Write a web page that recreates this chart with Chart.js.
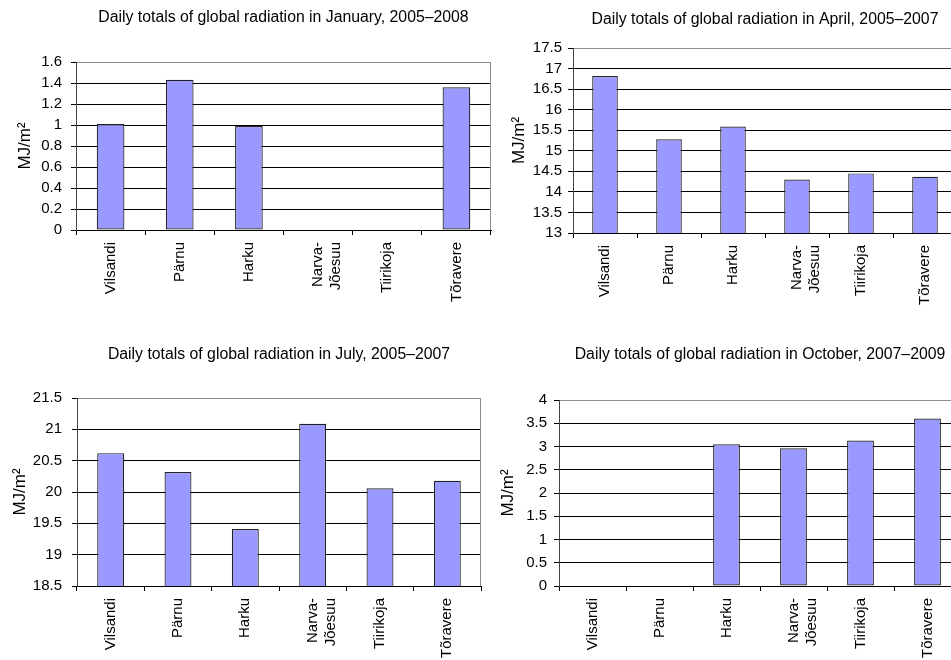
<!DOCTYPE html>
<html>
<head>
    <title>Daily totals of global radiation</title>
    <script src="https://cdn.jsdelivr.net/npm/chart.js"></script>
    <style>
        body {
            margin: 0;
            background: #fff;
            width: 951px;
            height: 660px;
            overflow: hidden;
            position: relative;
        }
        canvas { position: absolute; }
    </style>
</head>
<body>
    <canvas id="chartJan"></canvas>
    <canvas id="chartApr"></canvas>
    <canvas id="chartJul"></canvas>
    <canvas id="chartOct"></canvas>

    <script>
        // stations (same order in all four charts)
        const stations = ["Vilsandi", "Pärnu", "Harku", ["Narva-", "Jõesuu"], "Tiirikoja", "Tõravere"];

        // MJ/m2 (null = no data)
        const janValues = [1.01, 1.43, 0.99, null, null, 1.36];
        const aprValues = [16.82, 15.28, 15.59, 14.30, 14.45, 14.37];
        const julValues = [20.62, 20.32, 19.41, 21.09, 20.06, 20.18];
        const octValues = [null, null, 3.05, 2.96, 3.13, 3.60];

        // y axis: min, max, step
        const janAxis = [0, 1.6, 0.2];
        const aprAxis = [13, 17.5, 0.5];
        const julAxis = [18.5, 21.5, 0.5];
        const octAxis = [0, 4, 0.5];

        const janTitle = "Daily totals of global radiation in January, 2005–2008";
        const aprTitle = "Daily totals of global radiation in April, 2005–2007";
        const julTitle = "Daily totals of global radiation in July, 2005–2007";
        const octTitle = "Daily totals of global radiation in October, 2007–2009";
        const yTitle = "MJ/m²";

        const FONT = '"Liberation Sans", Arial, sans-serif';
        Chart.defaults.font.family = FONT;
        Chart.defaults.color = "#000";

        // title centred over the plot area, plus the grey right border of the plot
        const plotDeco = {
            id: "plotDeco",
            afterDraw(chart, args, opts) {
                const ctx = chart.ctx;
                const ca = chart.chartArea;
                ctx.save();
                ctx.strokeStyle = "#8c8c8c";
                ctx.lineWidth = 1;
                ctx.beginPath();
                ctx.moveTo(Math.round(ca.right) - 0.5, Math.round(ca.top) + 0.5);
                ctx.lineTo(Math.round(ca.right) - 0.5, Math.round(ca.bottom));
                ctx.stroke();
                ctx.fillStyle = "#000";
                ctx.font = opts.size + "px " + FONT;
                ctx.textAlign = "center";
                ctx.textBaseline = "middle";
                ctx.fillText(opts.text, (ca.left + ca.right) / 2, opts.y);
                ctx.restore();
            }
        };

        function makeChart(id, box, plot, deco, yTitleX, tickPad, values, axis) {
            const canvas = document.getElementById(id);
            canvas.width = box.w;
            canvas.height = box.h;
            canvas.style.left = box.x + "px";
            canvas.style.top = box.y + "px";

            return new Chart(canvas.getContext("2d"), {
                type: "bar",
                data: {
                    labels: stations,
                    datasets: [{
                        data: values,
                        backgroundColor: "#9999ff",
                        borderColor: "#222",
                        borderWidth: 1.2,
                        borderSkipped: false,
                        barPercentage: 0.4,
                        categoryPercentage: 1
                    }]
                },
                options: {
                    responsive: false,
                    animation: false,
                    layout: { padding: { left: 0, top: plot.top, right: box.w - plot.right, bottom: 0 } },
                    plugins: {
                        legend: { display: false },
                        tooltip: { enabled: false },
                        plotDeco: deco
                    },
                    scales: {
                        x: {
                            grid: { drawOnChartArea: false, tickLength: 5, color: "#000", offset: true },
                            border: { color: "#000" },
                            ticks: { font: { size: 15 }, minRotation: 90, maxRotation: 90, padding: 7, autoSkip: false },
                            afterFit(scale) { scale.height = box.h - plot.bottom; }
                        },
                        y: {
                            min: axis[0],
                            max: axis[1],
                            grid: {
                                color: c => c.index === c.chart.scales.y.ticks.length - 1 ? "#8c8c8c" : "#000",
                                tickColor: "#000",
                                tickLength: 5
                            },
                            border: { color: "#444" },
                            ticks: {
                                stepSize: axis[2],
                                autoSkip: false,
                                font: { size: 15 },
                                padding: tickPad,
                                callback: v => String(parseFloat(v.toFixed(2)))
                            },
                            title: {
                                display: true,
                                text: yTitle,
                                font: { size: 17 },
                                padding: { top: yTitleX - 10.2, bottom: 0 }
                            },
                            afterFit(scale) { scale.width = plot.left; }
                        }
                    }
                },
                plugins: [plotDeco]
            });
        }

        makeChart("chartJan", { x: 0, y: 0, w: 500, h: 330 },
            { left: 76, top: 62, right: 491, bottom: 230 },
            { text: janTitle, y: 18, size: 15.8 }, 25, 9, janValues, janAxis);

        makeChart("chartApr", { x: 480, y: 0, w: 490, h: 330 },
            { left: 93, top: 48, right: 477, bottom: 233 },
            { text: aprTitle, y: 20, size: 15.8 }, 39, 6, aprValues, aprAxis);

        makeChart("chartJul", { x: 0, y: 330, w: 500, h: 330 },
            { left: 77, top: 68, right: 481, bottom: 256 },
            { text: julTitle, y: 25, size: 15.8 }, 20, 10, julValues, julAxis);

        makeChart("chartOct", { x: 480, y: 330, w: 490, h: 330 },
            { left: 79, top: 70, right: 481, bottom: 256 },
            { text: octTitle, y: 25, size: 15.8 }, 28, 7, octValues, octAxis);
    </script>
</body>
</html>
